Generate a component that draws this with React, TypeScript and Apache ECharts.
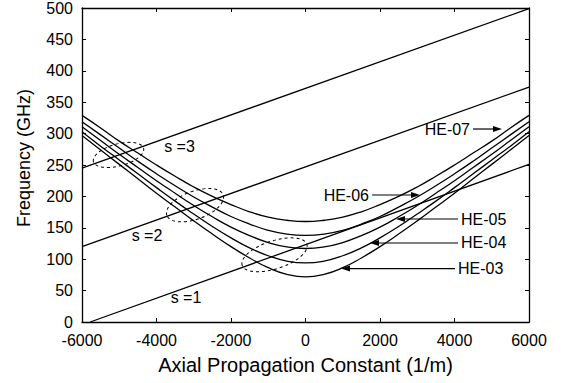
import React, { useEffect, useRef } from "react";
import * as echarts from "echarts";

// ---- data ----
const betaValues = [
  -6000, -5500, -5000, -4500, -4000, -3500, -3000, -2500, -2000, -1500, -1000, -500, 0,
  500, 1000, 1500, 2000, 2500, 3000, 3500, 4000, 4500, 5000, 5500, 6000,
];
const he03 = [297, 274, 251, 228, 205, 183, 161, 140, 120, 102, 86.5, 76, 72, 76, 86.5, 102, 120, 140, 161, 183, 205, 228, 251, 274, 297];
const he04 = [303, 280, 258, 236, 214, 192.5, 172, 152, 134, 118, 105.5, 97, 94, 97, 105.5, 118, 134, 152, 172, 192.5, 214, 236, 258, 280, 303];
const he05 = [311, 289, 267, 246, 225, 205, 185.5, 167.5, 151, 137.5, 126.5, 119.5, 117, 119.5, 126.5, 137.5, 151, 167.5, 185.5, 205, 225, 246, 267, 289, 311];
const he06 = [319, 298, 277, 256, 236, 217, 199, 183, 168, 156, 146, 140, 138, 140, 146, 156, 168, 183, 199, 217, 236, 256, 277, 298, 319];
const he07 = [329, 309, 288, 269, 250, 232, 215, 200, 187, 175.5, 167, 162, 160, 162, 167, 175.5, 187, 200, 215, 232, 250, 269, 288, 309, 329];

// light lines s = 1, 2, 3 : [beta, frequency] end points
const lineS1 = [[-5780, 0], [6000, 251]];
const lineS2 = [[-6000, 120], [6000, 374]];
const lineS3 = [[-6000, 245], [6000, 499]];

// line labels
const sLabelNames = ["s =3", "s =2", "s =1"];
const sLabelPos = [[-3383, 280], [-4255, 138.5], [-3208, 39.3]];

// mode labels with arrows: [tailBeta, tailFreq, tipBeta, tipFreq]
const modeNames = ["HE-07", "HE-06", "HE-05", "HE-04", "HE-03"];
const modeArrows = [
  [4497, 307.3, 5275, 307.3],
  [1785, 202.2, 3074, 202.2],
  [4094, 164, 2430, 164],
  [4094, 125.8, 1732, 125.8],
  [4013, 85, 953, 85],
];

// dashed ellipse centres (data coords)
const ellipseCentres = [[-5020, 266], [-2966, 186], [-832, 107]];
// ellipse pixel sizes: [rx, ry, rotation deg]
const ellipseShapes = [[26, 11, 15], [30, 14, 20], [34, 14, 18]];

const xTicks = { min: -6000, max: 6000, interval: 2000 };
const yTicks = { min: 0, max: 500, interval: 50 };

const FONT = "'Liberation Sans', Arial, Helvetica, sans-serif";

export default function App() {
  const ref = useRef<HTMLDivElement>(null);

  useEffect(() => {
    document.body.style.margin = "0";
    if (!ref.current) return;
    const chart = echarts.init(ref.current, null, { renderer: "svg" });

    const zip = (ys: number[]) => betaValues.map((b, i) => [b, ys[i]]);
    const curveStyle = { color: "#000", width: 1.3 };

    const axisCommon = {
      axisLine: { show: true, onZero: false, lineStyle: { color: "#000", width: 1.3 } },
      axisTick: { show: true, inside: true, length: 4, lineStyle: { color: "#000", width: 1 } },
      splitLine: { show: false },
    };

    const option: any = {
      animation: false,
      backgroundColor: "#fff",
      grid: { left: 82, right: 39, top: 8, bottom: 61, containLabel: false },
      xAxis: [
        {
          type: "value",
          ...xTicks,
          position: "bottom",
          ...axisCommon,
          axisLabel: {
            color: "#000",
            fontSize: 16,
            fontFamily: FONT,
            margin: 10,
            formatter: (v: number) => String(v),
          },
          name: "Axial Propagation Constant (1/m)",
          nameLocation: "middle",
          nameGap: 33,
          nameTextStyle: { color: "#000", fontSize: 20, fontFamily: FONT },
        },
        {
          type: "value",
          ...xTicks,
          position: "top",
          ...axisCommon,
          axisLabel: { show: false },
        },
      ],
      yAxis: [
        {
          type: "value",
          ...yTicks,
          position: "left",
          ...axisCommon,
          axisLabel: {
            color: "#000",
            fontSize: 16,
            fontFamily: FONT,
            margin: 9,
            formatter: (v: number) => String(v),
          },
          name: "Frequency (GHz)",
          nameLocation: "middle",
          nameGap: 49,
          nameTextStyle: { color: "#000", fontSize: 18, fontFamily: FONT, padding: [0, 0, 0, 14] },
        },
        {
          type: "value",
          ...yTicks,
          position: "right",
          ...axisCommon,
          axisLabel: { show: false },
        },
      ],
      series: [
        ...[he03, he04, he05, he06, he07].map((ys, i) => ({
          type: "line",
          name: modeNames[4 - i],
          data: zip(ys),
          smooth: true,
          showSymbol: false,
          symbol: "none",
          lineStyle: curveStyle,
          clip: true,
        })),
        ...[lineS1, lineS2, lineS3].map((d) => ({
          type: "line",
          data: d,
          showSymbol: false,
          symbol: "none",
          lineStyle: curveStyle,
          clip: true,
        })),
        {
          type: "custom",
          data: ellipseCentres,
          clip: false,
          renderItem: (params: any, api: any) => {
            const c = api.coord([api.value(0), api.value(1)]);
            const s = ellipseShapes[params.dataIndex];
            return {
              type: "ellipse",
              x: c[0],
              y: c[1],
              rotation: (s[2] * Math.PI) / 180,
              shape: { cx: 0, cy: 0, rx: s[0], ry: s[1] },
              style: { fill: "none", stroke: "#000", lineWidth: 1, lineDash: [3, 3] },
            };
          },
        },
        {
          type: "custom",
          data: modeArrows,
          clip: false,
          renderItem: (params: any, api: any) => {
            const tail = api.coord([api.value(0), api.value(1)]);
            const tip = api.coord([api.value(2), api.value(3)]);
            const dir = Math.sign(tip[0] - tail[0]);
            const headLen = 9;
            const headHalf = 3;
            const base = tip[0] - dir * headLen;
            return {
              type: "group",
              children: [
                {
                  type: "line",
                  shape: { x1: tail[0], y1: tail[1], x2: base, y2: tip[1] },
                  style: { stroke: "#000", lineWidth: 1.2 },
                },
                {
                  type: "polygon",
                  shape: { points: [[tip[0], tip[1]], [base, tip[1] - headHalf], [base, tip[1] + headHalf]] },
                  style: { fill: "#000" },
                },
                {
                  type: "text",
                  x: tail[0] - dir * 3,
                  y: tail[1],
                  style: {
                    text: modeNames[params.dataIndex],
                    fill: "#000",
                    fontSize: 16,
                    fontFamily: FONT,
                    align: dir > 0 ? "right" : "left",
                    verticalAlign: "middle",
                  },
                },
              ],
            };
          },
        },
        {
          type: "custom",
          data: sLabelPos,
          clip: false,
          renderItem: (params: any, api: any) => {
            const c = api.coord([api.value(0), api.value(1)]);
            return {
              type: "text",
              x: c[0],
              y: c[1],
              style: {
                text: sLabelNames[params.dataIndex],
                fill: "#000",
                fontSize: 16,
                fontFamily: FONT,
                align: "center",
                verticalAlign: "middle",
              },
            };
          },
        },
      ],
    };

    chart.setOption(option);
    return () => chart.dispose();
  }, []);

  return (
    <div
      ref={ref}
      style={{ position: "absolute", left: 0, top: 0, width: 568, height: 383 }}
    />
  );
}
